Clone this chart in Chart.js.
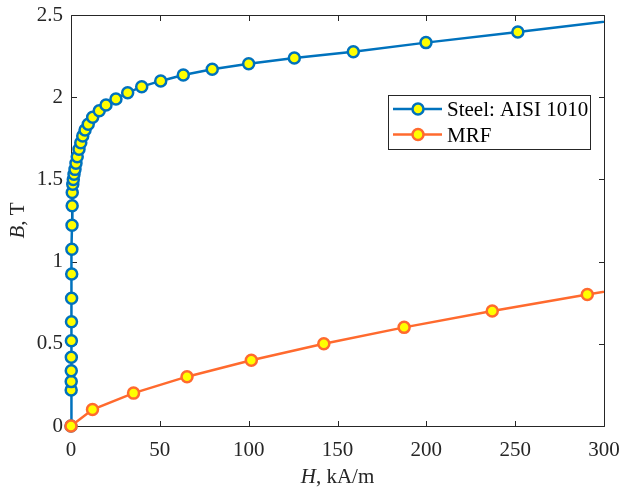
<!DOCTYPE html>
<html>
<head>
<meta charset="utf-8">
<script src="https://cdn.jsdelivr.net/npm/chart.js@4.4.0/dist/chart.umd.min.js"></script>
<style>
  html, body { margin: 0; padding: 0; background: #ffffff; }
  #wrap { width: 623px; height: 490px; }
</style>
</head>
<body>
<div id="wrap"><canvas id="c" width="623" height="490"></canvas></div>
<script>
// ---- data ----
const steelLabel = 'Steel: AISI 1010';
const mrfLabel = 'MRF';
const steelH = [0, 0.1, 0.12, 0.15, 0.18, 0.22, 0.27, 0.33, 0.4, 0.48, 0.57, 0.66,
  0.7, 1.0, 1.3, 1.7, 2.25, 2.8, 3.5, 4.5, 5.5, 6.6, 7.9, 9.7, 12.2, 15.9, 19.7, 25.3, 31.9, 39.8,
  50.5, 63.2, 79.5, 100, 125.7, 158.9, 199.8, 251.5, 318];
const steelB = [0, 0.219, 0.27, 0.336, 0.418, 0.519, 0.634, 0.777, 0.925, 1.075, 1.221, 1.34,
  1.42, 1.47, 1.50, 1.531, 1.561, 1.598, 1.638, 1.683, 1.723, 1.764, 1.800, 1.835, 1.878, 1.918, 1.953, 1.989, 2.027, 2.064,
  2.099, 2.135, 2.170, 2.204, 2.238, 2.277, 2.332, 2.397, 2.482];
const mrfH = [0, 12.1, 35.2, 65.3, 101.5, 142.3, 187.5, 237.1, 290.6, 346];
const mrfB = [0, 0.1, 0.2, 0.3, 0.4, 0.5, 0.6, 0.7, 0.8, 0.9];
const xTicks = [0, 50, 100, 150, 200, 250, 300];
const yTicks = [0, 0.5, 1, 1.5, 2, 2.5];
const xTitleItalic = 'H';
const xTitleRest = ', kA/m';
const yTitleItalic = 'B';
const yTitleRest = ', T';

// ---- styles ----
const FONT = "'Liberation Serif', 'Times New Roman', serif";
const FS = 21;
const TEXT = '#262626';
const BLUE = '#0072BD';
const ORANGE = '#FF6A2E';
const YELLOW = '#FFFF00';
const PR = 5.5;   // marker radius
const PBW = 2.5;  // marker border width
const CLIP = { left: 9, top: 0, right: 0, bottom: 9 };

const toXY = (xs, ys) => xs.map((x, i) => ({ x: x, y: ys[i] }));

const boxPlugin = {
  id: 'boxAndTicks',
  beforeDatasetsDraw(chart) {
    const ctx = chart.ctx, a = chart.chartArea;
    const xs = chart.scales.x, ys = chart.scales.y;
    const L = Math.round(a.left) + 0.5, R = Math.round(a.right) + 0.5;
    const T = Math.round(a.top) + 0.5, B = Math.round(a.bottom) + 0.5;
    ctx.save();
    ctx.strokeStyle = TEXT;
    ctx.lineWidth = 1;
    ctx.beginPath();
    ctx.rect(L, T, R - L, B - T);
    const tl = 5.5;
    xTicks.forEach(v => {
      const px = Math.round(xs.getPixelForValue(v)) + 0.5;
      ctx.moveTo(px, B); ctx.lineTo(px, B - tl);
      ctx.moveTo(px, T); ctx.lineTo(px, T + tl);
    });
    yTicks.forEach(v => {
      const py = Math.round(ys.getPixelForValue(v)) + 0.5;
      ctx.moveTo(L, py); ctx.lineTo(L + tl, py);
      ctx.moveTo(R, py); ctx.lineTo(R - tl, py);
    });
    ctx.stroke();
    ctx.restore();
  },
  afterDraw(chart) {
    const ctx = chart.ctx, a = chart.chartArea;
    ctx.save();
    ctx.fillStyle = TEXT;
    // x title
    ctx.textBaseline = 'alphabetic';
    ctx.font = 'italic ' + FS + 'px ' + FONT;
    const w1 = ctx.measureText(xTitleItalic).width;
    ctx.font = FS + 'px ' + FONT;
    const w2 = ctx.measureText(xTitleRest).width;
    const cx = (a.left + a.right) / 2;
    let sx = cx - (w1 + w2) / 2;
    ctx.font = 'italic ' + FS + 'px ' + FONT;
    ctx.fillText(xTitleItalic, sx, 483);
    ctx.font = FS + 'px ' + FONT;
    ctx.fillText(xTitleRest, sx + w1, 483);
    // y title
    ctx.save();
    ctx.translate(24, (a.top + a.bottom) / 2);
    ctx.rotate(-Math.PI / 2);
    ctx.font = 'italic ' + FS + 'px ' + FONT;
    const v1 = ctx.measureText(yTitleItalic).width;
    ctx.font = FS + 'px ' + FONT;
    const v2 = ctx.measureText(yTitleRest).width;
    let sy = -(v1 + v2) / 2;
    ctx.font = 'italic ' + FS + 'px ' + FONT;
    ctx.fillText(yTitleItalic, sy, 0);
    ctx.font = FS + 'px ' + FONT;
    ctx.fillText(yTitleRest, sy + v1, 0);
    ctx.restore();

    // legend
    const lx = 388.5, ly = 95.5, lw = 202, lh = 54;
    ctx.fillStyle = '#ffffff';
    ctx.fillRect(lx, ly, lw, lh);
    ctx.strokeStyle = TEXT;
    ctx.lineWidth = 1;
    ctx.strokeRect(lx, ly, lw, lh);
    const rows = [
      { label: steelLabel, color: BLUE, y: 109 },
      { label: mrfLabel, color: ORANGE, y: 134.5 }
    ];
    rows.forEach(r => {
      ctx.strokeStyle = r.color;
      ctx.lineWidth = 2.5;
      ctx.beginPath();
      ctx.moveTo(393, r.y); ctx.lineTo(442, r.y);
      ctx.stroke();
      ctx.beginPath();
      ctx.arc(418, r.y, PR, 0, Math.PI * 2);
      ctx.fillStyle = YELLOW;
      ctx.fill();
      ctx.lineWidth = PBW;
      ctx.stroke();
      ctx.fillStyle = '#000000';
      ctx.font = FS + 'px ' + FONT;
      ctx.textBaseline = 'alphabetic';
      ctx.fillText(r.label, 447, r.y + 7);
    });
    ctx.restore();
  }
};

new Chart(document.getElementById('c'), {
  type: 'line',
  data: {
    datasets: [
      {
        label: steelLabel,
        data: toXY(steelH, steelB),
        borderColor: BLUE,
        backgroundColor: YELLOW,
        borderWidth: 2.5,
        pointRadius: PR,
        pointBorderWidth: PBW,
        pointBackgroundColor: YELLOW,
        pointBorderColor: BLUE,
        tension: 0,
        clip: CLIP,
        order: 2
      },
      {
        label: mrfLabel,
        data: toXY(mrfH, mrfB),
        borderColor: ORANGE,
        backgroundColor: YELLOW,
        borderWidth: 2.5,
        pointRadius: PR,
        pointBorderWidth: PBW,
        pointBackgroundColor: YELLOW,
        pointBorderColor: ORANGE,
        tension: 0,
        clip: CLIP,
        order: 1
      }
    ]
  },
  options: {
    responsive: false,
    animation: false,
    devicePixelRatio: 1,
    layout: { padding: { left: 0, top: 15, right: 19, bottom: 0 } },
    plugins: { legend: { display: false }, tooltip: { enabled: false } },
    scales: {
      x: {
        type: 'linear',
        min: 0, max: 300,
        afterBuildTicks: (s) => { s.ticks = xTicks.map(v => ({ value: v })); },
        afterFit: (s) => { s.height = 64; s.paddingLeft = 0; s.paddingRight = 0; },
        grid: { display: false, drawTicks: false },
        border: { display: false },
        ticks: {
          padding: 12,
          maxRotation: 0,
          font: { family: FONT, size: FS },
          color: TEXT,
          callback: (v) => String(v)
        }
      },
      y: {
        type: 'linear',
        min: 0, max: 2.5,
        afterBuildTicks: (s) => { s.ticks = yTicks.map(v => ({ value: v })); },
        afterFit: (s) => { s.width = 71; s.paddingTop = 0; s.paddingBottom = 0; },
        grid: { display: false, drawTicks: false },
        border: { display: false },
        ticks: {
          padding: 8,
          font: { family: FONT, size: FS },
          color: TEXT,
          callback: (v) => String(v)
        }
      }
    }
  },
  plugins: [boxPlugin]
});
</script>
</body>
</html>
